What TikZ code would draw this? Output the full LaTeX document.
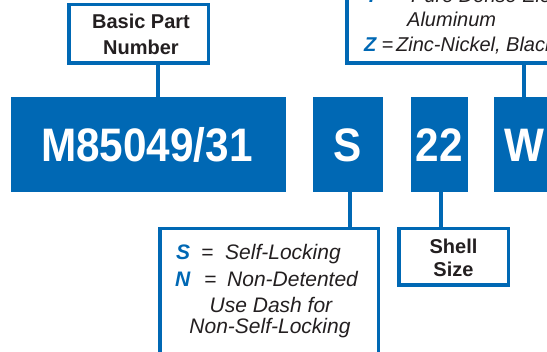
\documentclass[tikz,border=0pt]{standalone}
\usepackage{fontspec}
\setmainfont{Liberation Sans}
\usepackage{graphicx}
\definecolor{blu}{HTML}{0068B4}
\definecolor{ink}{HTML}{231F20}
\begin{document}
\begin{tikzpicture}[x=1pt,y=-1pt,
  frame/.style={draw=blu, line width=3.5pt, inner sep=0pt, outer sep=0pt, rectangle},
  blk/.style={fill=blu, inner sep=0pt, outer sep=0pt, rectangle},
  link/.style={draw=blu, line width=4pt},
  big/.style={text=white, inner sep=0pt, font=\fontsize{47}{47}\selectfont\bfseries},
  lbl/.style={text=ink, font=\fontsize{20}{26}\selectfont\bfseries, align=center},
  itl/.style={text=ink, font=\fontsize{20}{24}\selectfont\itshape, anchor=base west, inner sep=0pt},
  itb/.style={text=ink, font=\fontsize{21}{24}\selectfont\itshape, anchor=base west, inner sep=0pt},
  key/.style={text=blu, font=\bfseries\itshape, anchor=base west, inner sep=0pt},
]
\useasboundingbox (0,0) rectangle (547,352);
\begin{scope}
\clip (0,0) rectangle (547,352);
% blue code boxes
\node[blk, minimum width=275pt, minimum height=95pt] (mbox) at (148.5,144.5) {};
\node[big] (mtxt) at (147,145) {\scalebox{0.9}[1]{M85049/31}};
\node[blk, minimum width=70pt, minimum height=95pt] (sbox) at (348,144.5) {};
\node[big] (stxt) at (348,145) {\scalebox{0.9}[1]{S}};
\node[blk, minimum width=57pt, minimum height=95pt] (nbox) at (439.5,144.5) {};
\node[big] (ntxt) at (439.5,145) {\scalebox{0.9}[1]{22}};
\node[blk, minimum width=106pt, minimum height=95pt] (wbox) at (547,144.5) {};
\node[big, anchor=west] (wtxt) at (504,145) {\scalebox{0.9}[1]{W}};
% label frames
\node[frame, minimum width=139.5pt, minimum height=58.5pt, lbl] (basic) at (138.5,34) {};
\node[lbl, inner sep=0pt] (basictxt) at (141,34) {Basic Part\\Number};
\node[frame, minimum width=109.5pt, minimum height=56.5pt] (shell) at (453.5,257) {};
\node[lbl, inner sep=0pt, font=\fontsize{20}{23}\selectfont\bfseries] (shelltxt) at (453.5,258) {Shell\\Size};
\node[frame, minimum width=400pt, minimum height=123.25pt] (finish) at (546.75,1.625) {};
\node[frame, minimum width=218.5pt, minimum height=171.25pt] (lock) at (269,314.375) {};
% finish texts
\node[key, font=\fontsize{20}{24}\selectfont\bfseries\itshape] (ky) at (365,2.5) {Y};
\node[itl] (eqy) at (385,2.5) {=};
\node[itl] (ty) at (411,2.5) {Pure Dense Electrodeposited};
\node[itl] (ty2) at (407,27) {Aluminum};
\node[key, font=\fontsize{20}{24}\selectfont\bfseries\itshape] (kz) at (364,52) {Z};
\node[itl] (eqz) at (381.5,52) {=};
\node[itl] (tz) at (396,52) {Zinc-Nickel, Black};
% locking texts
\node[key, font=\fontsize{21}{24}\selectfont\bfseries\itshape] (ks) at (176,260) {S};
\node[itb] (eqs) at (201,260) {=};
\node[itb] (ts) at (225,260) {Self-Locking};
\node[key, font=\fontsize{21}{24}\selectfont\bfseries\itshape] (kn) at (175,287) {N};
\node[itb] (eqn) at (204,287) {=};
\node[itb] (tn) at (227,287) {Non-Detented};
\node[itb, anchor=base] (td1) at (271,313) {Use Dash for};
\node[itb, anchor=base] (td2) at (270,334) {Non-Self-Locking};
% connectors
\coordinate (c1) at (158,0);
\coordinate (c2) at (524,0);
\coordinate (c3) at (350,0);
\coordinate (c4) at (441,0);
\draw[link] (basic.south -| c1) -- (mbox.north -| c1);
\draw[link] (finish.south -| c2) -- (wbox.north -| c2);
\draw[link] (sbox.south -| c3) -- (lock.north -| c3);
\draw[link] (nbox.south -| c4) -- (shell.north -| c4);
\end{scope}
\end{tikzpicture}
\end{document}
